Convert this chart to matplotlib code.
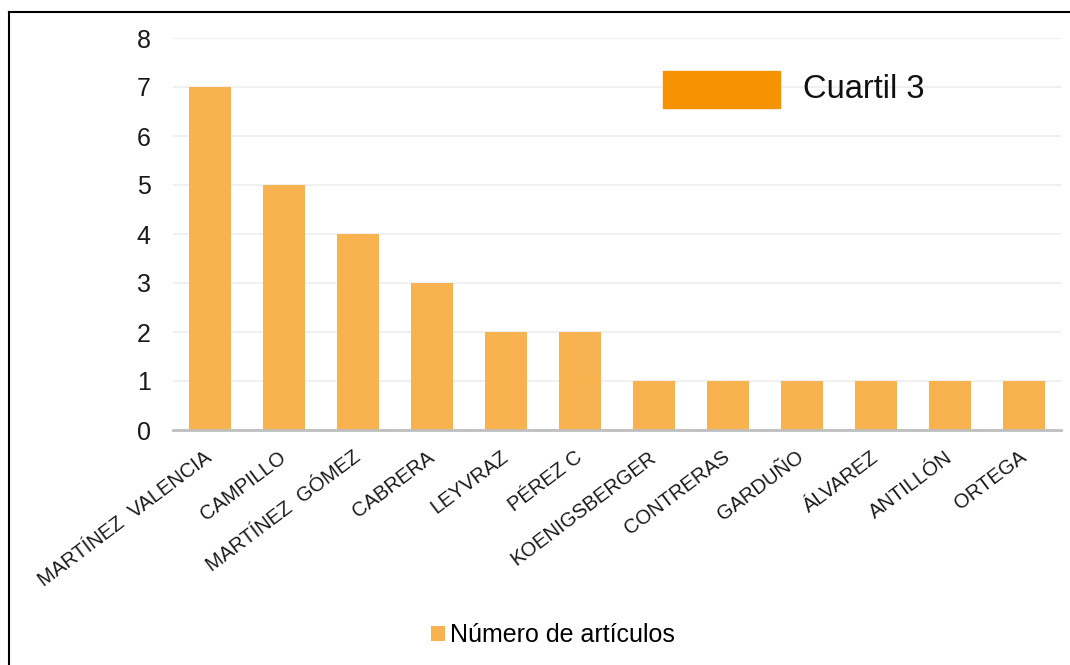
import matplotlib
matplotlib.use("Agg")
import matplotlib.pyplot as plt
from matplotlib.patches import Rectangle
from matplotlib.lines import Line2D

autores = ["MARTÍNEZ  VALENCIA", "CAMPILLO", "MARTÍNEZ  GÓMEZ", "CABRERA", "LEYVRAZ",
           "PÉREZ C", "KOENIGSBERGER", "CONTRERAS", "GARDUÑO", "ÁLVAREZ", "ANTILLÓN", "ORTEGA"]
articulos = [7, 5, 4, 3, 2, 2, 1, 1, 1, 1, 1, 1]
y_ticks = [0, 1, 2, 3, 4, 5, 6, 7, 8]

plt.rcParams['font.family'] = ['Liberation Sans', 'DejaVu Sans']

fig = plt.figure(figsize=(10.7, 6.65), dpi=100)
ax = fig.add_axes([173 / 1070, 235 / 665, 888 / 1070, 392 / 665])

x = list(range(len(autores)))
ax.bar(x, articulos, width=0.57, color='#F8B250', label='Número de artículos', zorder=2)

ax.set_xlim(-0.5, len(autores) - 0.5)
ax.set_ylim(0, 8)
ax.set_yticks(y_ticks)
ax.set_yticklabels([str(v) for v in y_ticks], fontsize=18, color='#1a1a1a')
ax.yaxis.grid(True, color='#EDEDED', linewidth=1.2, zorder=0)
ax.tick_params(axis='y', length=0, pad=16)
ax.tick_params(axis='x', length=0, pad=18)
ax.set_xticks(x)
ax.set_xticklabels(autores, rotation=37, ha='right', va='center', rotation_mode='anchor',
                   fontsize=14.5, color='#1a1a1a')
for side in ['top', 'right', 'left']:
    ax.spines[side].set_visible(False)
ax.spines['bottom'].set_color('#BFBFBF')
ax.spines['bottom'].set_linewidth(2)

# leyenda inferior
fig.legend(loc='center', bbox_to_anchor=(553 / 1070, 1 - 635 / 665), frameon=False,
           fontsize=18, handlelength=0.55, handleheight=0.55, handletextpad=0.2)

# recuadro "Cuartil 3"
fig.patches.append(Rectangle((663 / 1070, 1 - 108 / 665), 117 / 1070, 37 / 665,
                             transform=fig.transFigure, color='#F59300', zorder=3))
fig.text(803 / 1070, 1 - 89 / 665, 'Cuartil 3', fontsize=23.5, va='center', ha='left',
         color='#111111')

# borde superior e izquierdo
fig.lines.append(Line2D([8.5 / 1070, 8.5 / 1070], [0, 1 - 12 / 665], transform=fig.transFigure,
                        color='black', linewidth=1.5))
fig.lines.append(Line2D([8.5 / 1070, 1], [1 - 12 / 665, 1 - 12 / 665], transform=fig.transFigure,
                        color='black', linewidth=1.5))

fig.savefig('out.png', dpi=100, facecolor='white')
